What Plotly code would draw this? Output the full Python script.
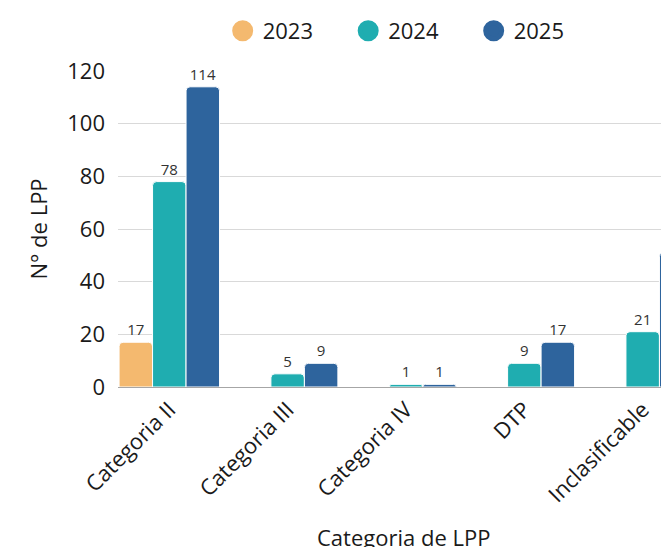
import plotly.graph_objects as go

categories = ["Categoria II", "Categoria III", "Categoria IV", "DTP", "Inclasificable"]
years = ["2023", "2024", "2025"]
values_2023 = [17, None, None, None, None]
values_2024 = [78, 5, 1, 9, 21]
values_2025 = [114, 9, 1, 17, 51]
y_ticks = [0, 20, 40, 60, 80, 100, 120]

series = [values_2023, values_2024, values_2025]
colors = ["#F4B96F", "#1FADB0", "#2E649D"]
FONT = "Open Sans"
TXT = "#1a1a1a"

fig = go.Figure()
for name, vals, col in zip(years, series, colors):
    fig.add_trace(go.Bar(
        x=categories, y=vals, name=name, legendgroup=name, showlegend=False,
        marker=dict(color=col, line=dict(color="white", width=1)),
        texttemplate="%{y}", textposition="outside", cliponaxis=False,
        textfont=dict(family=FONT, size=15, color="#333333"),
    ))
for name, col in zip(years, colors):
    fig.add_trace(go.Scatter(
        x=[None], y=[None], mode="markers", name=name, legendgroup=name,
        marker=dict(color=col, size=16, line=dict(color=col, width=5)),
        showlegend=True,
    ))

fig.update_layout(
    width=716, height=560,
    margin=dict(l=110, r=30, t=63, b=181, autoexpand=False),
    paper_bgcolor="white", plot_bgcolor="white",
    barmode="group", bargap=0.151, bargroupgap=0, barcornerradius=4,
    font=dict(family=FONT, size=22, color=TXT),
    legend=dict(orientation="h", xref="paper", x=0.509, xanchor="center",
                yref="container", y=0.959, yanchor="middle", bgcolor="rgba(0,0,0,0)",
                font=dict(family=FONT, size=22, color=TXT), itemsizing="trace",
                entrywidth=80.5, entrywidthmode="pixels"),
    xaxis=dict(type="category", range=[-0.4335, 4.4335], tickangle=-45, automargin=False,
               showline=True, linecolor="#a6a6a6", linewidth=1, showgrid=False,
               tickfont=dict(family=FONT, size=22, color=TXT)),
    yaxis=dict(range=[0, 120], tickvals=y_ticks, showgrid=True, gridcolor="#d9d9d9",
               gridwidth=1, zeroline=False, showline=False, ticklabelstandoff=12,
               automargin=False,
               tickfont=dict(family=FONT, size=22, color=TXT),
               title=dict(text="N° de LPP", standoff=13,
                          font=dict(family=FONT, size=22, color=TXT))),
    annotations=[dict(text="Categoria de LPP", xref="paper", yref="paper",
                      x=0.495, y=-0.4747, xanchor="center", yanchor="middle",
                      showarrow=False, font=dict(family=FONT, size=22, color=TXT))],
)

fig.write_html(
    "out.html",
    post_script="document.documentElement.style.overflow='hidden';"
                "document.body.style.overflow='hidden';",
)
